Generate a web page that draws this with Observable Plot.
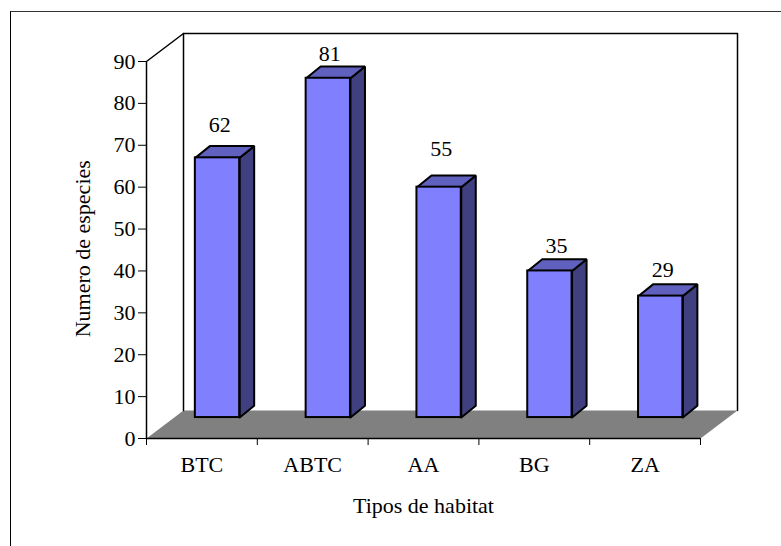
<!DOCTYPE html>
<html><head><meta charset="utf-8">
<script src="https://cdn.jsdelivr.net/npm/d3@7"></script>
<script src="https://cdn.jsdelivr.net/npm/@observablehq/plot@0.6"></script>
<style>
html,body{margin:0;padding:0;background:#fff;overflow:hidden}
#border{position:absolute;left:10px;top:11px;right:0;bottom:0;border-left:1px solid #000;border-top:1px solid #333;pointer-events:none}
#chart{position:absolute;left:0;top:0}
</style></head><body>
<div id="chart"></div><div id="border"></div>
<script>
const categories = ["BTC","ABTC","AA","BG","ZA"];
const values = [62,81,55,35,29];
const yTicks = [0,10,20,30,40,50,60,70,80,90];
const labelX = [0.66,1.655,2.66,3.70,4.66];
const labelY = [74.9,91.9,69.2,46,40.3];
const font = "'Liberation Serif','Times New Roman',serif";
const FS = 22;

// depth of the chart box and of the bars, in data units
const wallDX = 0.334, wallDY = 6.68, yMax = 90, nCat = 5;
const barShift = 0.1408, barHalf = 0.2, barBase = 5;
const barDX = 0.131, barDY = 2.8;

const bars = values.map((v,i)=>({
  i, v,
  x1: i+0.5+barShift-barHalf, x2: i+0.5+barShift+barHalf,
  y1: barBase, y2: barBase+v
}));
const topFaces = bars.flatMap(b=>[[b.x1,b.y2],[b.x1+barDX,b.y2+barDY],[b.x2+barDX,b.y2+barDY],[b.x2,b.y2],[b.x1,b.y2]].map(([x,y])=>({x,y,id:b.i})));
const sideFaces = bars.flatMap(b=>[[b.x2,b.y1],[b.x2+barDX,b.y1+barDY],[b.x2+barDX,b.y2+barDY],[b.x2,b.y2],[b.x2,b.y1]].map(([x,y])=>({x,y,id:b.i})));
const floorFace = [[0,0],[wallDX,wallDY],[nCat+wallDX,wallDY],[nCat,0],[0,0]].map(([x,y])=>({x,y}));
const walls = [[0,0],[0,yMax],[wallDX,yMax+wallDY],[nCat+wallDX,yMax+wallDY],[nCat+wallDX,wallDY]].map(([x,y])=>({x,y}));
const innerWall = [[wallDX,wallDY],[wallDX,yMax+wallDY]].map(([x,y])=>({x,y}));

const plot = Plot.plot({
  width:781, height:546,
  marginLeft:146, marginRight:81, marginTop:61, marginBottom:108,
  x:{type:"linear",domain:[0,nCat],label:null},
  y:{type:"linear",domain:[0,yMax],label:null},
  style:{fontFamily:font,background:"#fff",color:"#000",overflow:"visible"},
  marks:[
    Plot.line(floorFace,{x:"x",y:"y",fill:"#808080",stroke:"none",curve:"linear"}),
    Plot.line(walls,{x:"x",y:"y",stroke:"#000",strokeWidth:1.5,curve:"linear"}),
    Plot.line(innerWall,{x:"x",y:"y",stroke:"#000",strokeWidth:1.5}),
    Plot.ruleY([0],{x1:0,x2:nCat,stroke:"#000",strokeWidth:1.5}),
    Plot.axisY({ticks:yTicks,tickSize:8,tickPadding:3,fontSize:FS,label:null,stroke:"#000",fill:"#000"}),
    Plot.axisX({ticks:[0,1,2,3,4,5],tickSize:7,tickFormat:()=>"",label:null}),
    Plot.axisX({ticks:[0.5,1.5,2.5,3.5,4.5],tickSize:0,tickPadding:18,fontSize:FS,label:null,tickFormat:d=>categories[Math.floor(d)]}),
    Plot.line(sideFaces,{x:"x",y:"y",z:"id",fill:"#404080",stroke:"#000",strokeWidth:2,strokeLinejoin:"miter"}),
    Plot.line(topFaces,{x:"x",y:"y",z:"id",fill:"#6060BF",stroke:"#000",strokeWidth:2,strokeLinejoin:"miter"}),
    Plot.rect(bars,{x1:"x1",x2:"x2",y1:"y1",y2:"y2",fill:"#8080FF",stroke:"#000",strokeWidth:2}),
    Plot.text(values,{x:(d,i)=>labelX[i],y:(d,i)=>labelY[i],text:d=>String(d),fontSize:FS,fill:"#000"}),
    Plot.text(["Numero de especies"],{x:[-0.578],y:[45.3],text:d=>d,rotate:-90,fontSize:FS,fill:"#000"}),
    Plot.text(["Tipos de habitat"],{x:[2.5],y:[-16],text:d=>d,fontSize:FS,fill:"#000"})
  ]
});
document.getElementById("chart").appendChild(plot);
</script>
</body></html>
